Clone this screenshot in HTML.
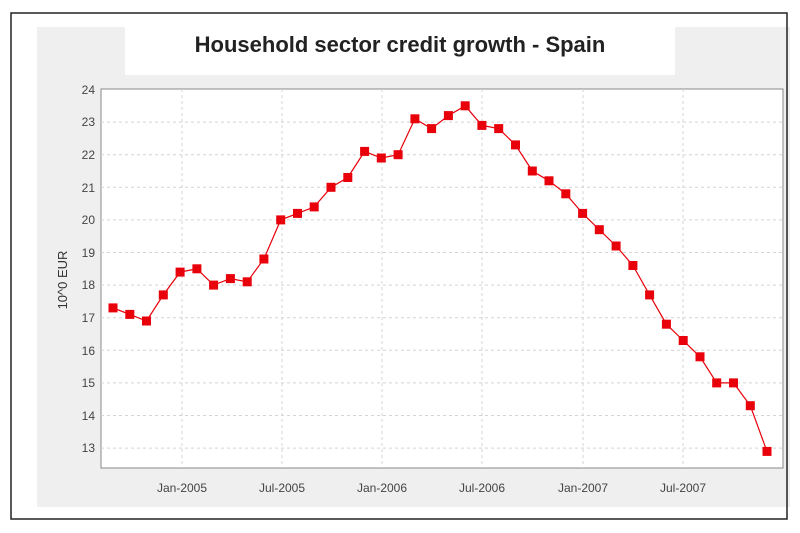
<!DOCTYPE html>
<html><head><meta charset="utf-8"><style>
html,body{margin:0;padding:0;background:#fff;width:800px;height:533px;overflow:hidden}
</style></head><body>
<svg width="800" height="533" viewBox="0 0 800 533" xmlns="http://www.w3.org/2000/svg" font-family="Liberation Sans, sans-serif">
<defs>
<marker id="m" markerWidth="10" markerHeight="10" refX="5" refY="5" markerUnits="userSpaceOnUse">
<rect x="0.5" y="0.5" width="9" height="9" fill="#e8000a"/>
</marker>
</defs>
<rect x="0" y="0" width="800" height="533" fill="#fff"/>
<rect x="37" y="27" width="753" height="480" fill="#efefef"/>
<rect x="125" y="25" width="550" height="50" fill="#fff"/>
<text x="400" y="52" text-anchor="middle" font-size="22" font-weight="bold" fill="#222">Household sector credit growth - Spain</text>
<rect x="101" y="89" width="682" height="379" fill="#fff" stroke="#888" stroke-width="1"/>
<g stroke="#d4d4d4" stroke-dasharray="3,3" stroke-width="1">
<line x1="101" x2="783" y1="122.1" y2="122.1"/><line x1="101" x2="783" y1="154.7" y2="154.7"/>
<line x1="101" x2="783" y1="187.3" y2="187.3"/><line x1="101" x2="783" y1="219.9" y2="219.9"/>
<line x1="101" x2="783" y1="252.5" y2="252.5"/><line x1="101" x2="783" y1="285.1" y2="285.1"/>
<line x1="101" x2="783" y1="317.7" y2="317.7"/><line x1="101" x2="783" y1="350.3" y2="350.3"/>
<line x1="101" x2="783" y1="382.9" y2="382.9"/><line x1="101" x2="783" y1="415.5" y2="415.5"/>
<line x1="101" x2="783" y1="448.1" y2="448.1"/>
<line y1="89" y2="468" x1="182" x2="182"/><line y1="89" y2="468" x1="282" x2="282"/>
<line y1="89" y2="468" x1="382" x2="382"/><line y1="89" y2="468" x1="482" x2="482"/>
<line y1="89" y2="468" x1="583" x2="583"/><line y1="89" y2="468" x1="683" x2="683"/>
</g>
<g font-size="12" fill="#444" text-anchor="end">
<text x="95" y="94">24</text><text x="95" y="126">23</text><text x="95" y="159">22</text>
<text x="95" y="192">21</text><text x="95" y="224">20</text><text x="95" y="257">19</text>
<text x="95" y="289">18</text><text x="95" y="322">17</text><text x="95" y="355">16</text>
<text x="95" y="387">15</text><text x="95" y="420">14</text><text x="95" y="452">13</text>
</g>
<g font-size="12" fill="#444" text-anchor="middle">
<text x="182" y="492">Jan-2005</text><text x="282" y="492">Jul-2005</text>
<text x="382" y="492">Jan-2006</text><text x="482" y="492">Jul-2006</text>
<text x="583" y="492">Jan-2007</text><text x="683" y="492">Jul-2007</text>
</g>
<text transform="translate(67,280) rotate(-90)" text-anchor="middle" font-size="13" fill="#333">10^0 EUR</text>
<polyline fill="none" stroke="#e8000a" stroke-width="1.2" marker-start="url(#m)" marker-mid="url(#m)" marker-end="url(#m)"
points="113,307.9 129.8,314.4 146.5,321 163.3,294.9 180.1,272.1 196.9,268.8 213.6,285.1 230.4,278.6 247.2,281.8 263.9,259 280.7,219.9 297.5,213.4 314.2,206.9 331,187.3 347.8,177.5 364.6,151.4 381.3,158 398.1,154.7 414.9,118.8 431.6,128.6 448.4,115.6 465.2,105.8 481.9,125.4 498.7,128.6 515.5,144.9 532.3,171 549,180.8 565.8,193.8 582.6,213.4 599.3,229.7 616.1,246 632.9,265.5 649.6,294.9 666.4,324.2 683.2,340.5 700,356.8 716.7,382.9 733.5,382.9 750.3,405.7 767,451.4"/>
<rect x="11" y="13" width="776" height="506" fill="none" stroke="#222" stroke-width="1.5"/>
</svg>
</body></html>
